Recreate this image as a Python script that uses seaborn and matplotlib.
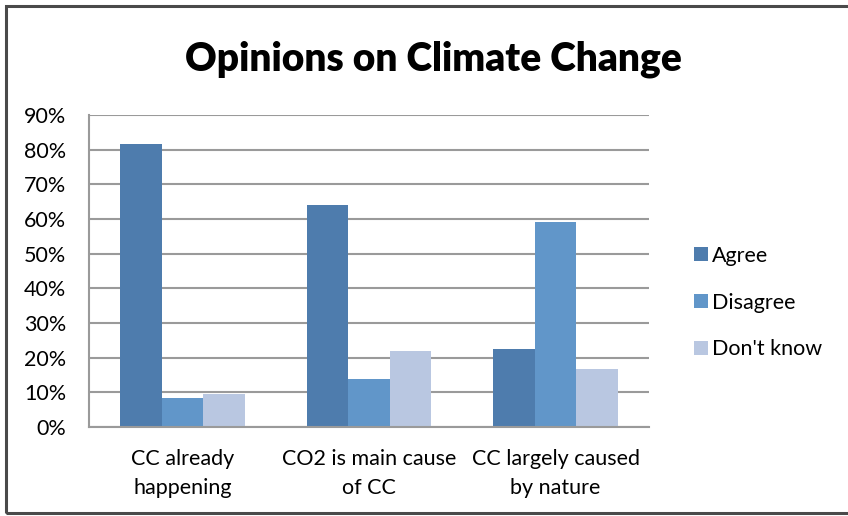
import matplotlib
matplotlib.use("Agg")
import matplotlib.pyplot as plt
import matplotlib.patches as mpatches
from matplotlib.ticker import PercentFormatter, MultipleLocator
import seaborn as sns
import pandas as pd

# Survey statements and share of responses (%)
statements = ["CC already\nhappening", "CO2 is main cause\nof CC", "CC largely caused\nby nature"]
responses = ["Agree", "Disagree", "Don't know"]
agree = [81.6, 63.9, 22.6]
disagree = [8.4, 13.9, 59.2]
dont_know = [9.6, 21.9, 16.6]

colors = ["#4E7CAD", "#6196C9", "#B9C7E1"]

df = pd.DataFrame({
    "statement": statements * 3,
    "response": [r for r in responses for _ in statements],
    "share": agree + disagree + dont_know,
})

sns.set_theme(style="white")
plt.rcParams["font.family"] = ["Lato", "DejaVu Sans"]
plt.rcParams["text.color"] = "black"

fig = plt.figure(figsize=(8.48, 5.16), dpi=100)
fig.patch.set_facecolor("white")
ax = fig.add_axes([89 / 848, 1 - 427 / 516, 560 / 848, 312 / 516])

sns.barplot(data=df, x="statement", y="share", hue="response",
            palette=colors, width=0.667, linewidth=0, saturation=1,
            legend=True, ax=ax)

ax.set_ylim(0, 90)
ax.yaxis.set_major_locator(MultipleLocator(10))
ax.yaxis.set_major_formatter(PercentFormatter(decimals=0))
ax.set_xlim(-0.5, 2.5)
ax.set_xlabel("")
ax.set_ylabel("")
ax.grid(axis="y", color="#9A9A9A", linewidth=1.5)
ax.set_axisbelow(True)
for side in ["top", "right"]:
    ax.spines[side].set_visible(False)
for side in ["left", "bottom"]:
    ax.spines[side].set_color("#9A9A9A")
    ax.spines[side].set_linewidth(1.5)
ax.tick_params(axis="y", length=0, pad=16.5, labelsize=15.5, labelcolor="black")
ax.tick_params(axis="x", length=0, pad=16, labelsize=15.5, labelcolor="black")
for lbl in ax.get_xticklabels():
    lbl.set_linespacing(1.55)

handles, labels = ax.get_legend_handles_labels()
ax.get_legend().remove()
fig.legend(handles, labels, loc="upper left",
           bbox_to_anchor=(685 / 848, 1 - 237 / 516), frameon=False,
           fontsize=15.5, handlelength=0.65, handleheight=0.65,
           handletextpad=0.2, labelspacing=1.25, borderaxespad=0)

fig.text(0.511, 1 - 59 / 516, "Opinions on Climate Change",
         ha="center", va="center", fontsize=28, fontweight="heavy")

# Chart-area frame (extends past the right edge)
fig.patches.append(mpatches.Rectangle(
    (6 / 848, 3 / 516), 1.0, 1 - 9 / 516, transform=fig.transFigure,
    fill=False, edgecolor="#4A4A4A", linewidth=2.2))

fig.savefig("out.png", dpi=100, facecolor="white")
